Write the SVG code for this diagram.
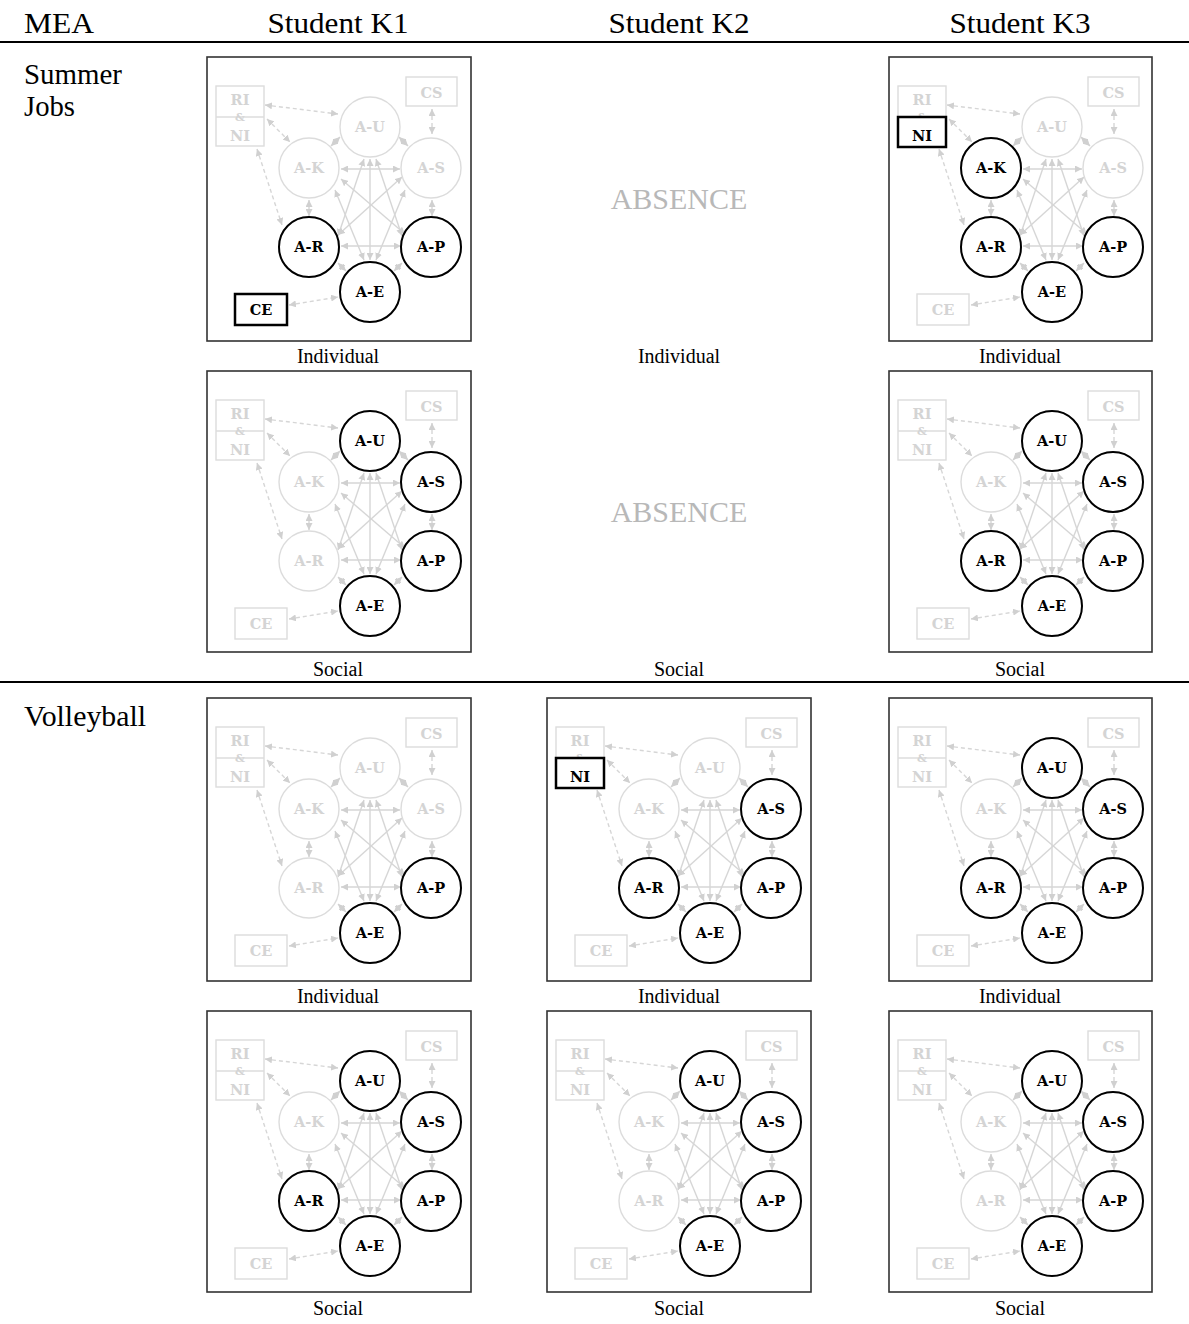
<svg xmlns="http://www.w3.org/2000/svg" xmlns:xlink="http://www.w3.org/1999/xlink" width="1189" height="1324" viewBox="0 0 1189 1324">
<style>
.hdr{font-family:"Liberation Serif","Times New Roman",serif;font-size:30px;fill:#000}
.lbl{font-family:"Liberation Serif","Times New Roman",serif;font-size:20px;fill:#000;text-anchor:middle}
.abs{font-family:"Liberation Serif","Times New Roman",serif;font-size:30px;fill:#b8b8b8;text-anchor:middle}
.frame{fill:none;stroke:#333;stroke-width:1.6}
.rule{stroke:#000;stroke-width:2}
.con{stroke:#d6d6d6;stroke-width:1.4;fill:none;marker-start:url(#ah);marker-end:url(#ah)}
.dash{stroke-dasharray:4 3}
.nd text{font-family:"DejaVu Serif","Liberation Serif",serif;font-weight:bold;font-size:14.5px;text-anchor:middle}
.gr circle,.gr rect{fill:none;stroke:#dcdcdc;stroke-width:1.4}
.gr text{fill:#d4d4d4}
.gr line{stroke:#dcdcdc;stroke-width:1.4}
.hi circle,.hi rect{fill:#fff;stroke:#000;stroke-width:2}
.hi rect{stroke-width:2.5}
.hi text{fill:#000}
</style>
<defs>
<marker id="ah" viewBox="0 0 8 8" refX="8" refY="4" markerWidth="7" markerHeight="7" orient="auto-start-reverse" markerUnits="userSpaceOnUse"><path d="M0,0 L8,4 L0,8 z" fill="#d0d0d0"/></marker>
<g id="base">
<g id="connectors">
<line class="con dash" x1="58" y1="48" x2="131" y2="57"/>
<line class="con dash" x1="60" y1="62" x2="83" y2="85"/>
<line class="con dash" x1="50" y1="92" x2="75" y2="168"/>
<line class="con dash" x1="225" y1="52" x2="225" y2="77"/>
<line class="con dash" x1="82" y1="248" x2="131" y2="240"/>
<line class="con" x1="133" y1="80" x2="124" y2="89"/>
<line class="con" x1="192" y1="80" x2="201" y2="89"/>
<line class="con" x1="134" y1="112" x2="193" y2="112"/>
<line class="con" x1="102" y1="143" x2="102" y2="159"/>
<line class="con" x1="225" y1="143" x2="225" y2="159"/>
<line class="con" x1="134" y1="189" x2="194" y2="189"/>
<line class="con" x1="131" y1="206" x2="139" y2="214"/>
<line class="con" x1="195" y1="206" x2="187" y2="214"/>
<line class="con" x1="163" y1="102" x2="163" y2="203"/>
<line class="con" x1="157" y1="102" x2="131" y2="179"/>
<line class="con" x1="169" y1="102" x2="195" y2="179"/>
<line class="con" x1="128" y1="133" x2="157" y2="203"/>
<line class="con" x1="198" y1="133" x2="169" y2="203"/>
<line class="con" x1="134" y1="122" x2="198" y2="177"/>
<line class="con" x1="195" y1="120" x2="131" y2="178"/>
</g>
<g id="base-RINI" class="nd gr"><rect x="9" y="29" width="48" height="60"/><line x1="9" y1="60" x2="57" y2="60"/><text x="33" y="48">RI</text><text x="33" y="64" style="font-size:11px">&amp;</text><text x="33" y="84">NI</text></g>
<g id="base-CS" class="nd gr"><rect x="199" y="20" width="51" height="29"/><text x="224.5" y="41">CS</text></g>
<g id="base-CE" class="nd gr"><rect x="28" y="237" width="52" height="31"/><text x="54" y="258">CE</text></g>
<g id="base-AU" class="nd gr"><circle cx="163" cy="70" r="30"/><text x="163" y="75">A-U</text></g>
<g id="base-AK" class="nd gr"><circle cx="102" cy="111" r="30"/><text x="102" y="116">A-K</text></g>
<g id="base-AS" class="nd gr"><circle cx="224" cy="111" r="30"/><text x="224" y="116">A-S</text></g>
<g id="base-AR" class="nd gr"><circle cx="102" cy="190" r="30"/><text x="102" y="195">A-R</text></g>
<g id="base-AP" class="nd gr"><circle cx="224" cy="190" r="30"/><text x="224" y="195">A-P</text></g>
<g id="base-AE" class="nd gr"><circle cx="163" cy="235" r="30"/><text x="163" y="240">A-E</text></g>
</g>
<g id="hAU" class="nd hi"><circle cx="163" cy="70" r="30"/><text x="163" y="75">A-U</text></g>
<g id="hAK" class="nd hi"><circle cx="102" cy="111" r="30"/><text x="102" y="116">A-K</text></g>
<g id="hAS" class="nd hi"><circle cx="224" cy="111" r="30"/><text x="224" y="116">A-S</text></g>
<g id="hAR" class="nd hi"><circle cx="102" cy="190" r="30"/><text x="102" y="195">A-R</text></g>
<g id="hAP" class="nd hi"><circle cx="224" cy="190" r="30"/><text x="224" y="195">A-P</text></g>
<g id="hAE" class="nd hi"><circle cx="163" cy="235" r="30"/><text x="163" y="240">A-E</text></g>
<g id="hNI" class="nd hi"><rect x="9" y="60" width="48" height="30"/><text x="33" y="84">NI</text></g>
<g id="hCE" class="nd hi"><rect x="28" y="237" width="52" height="31"/><text x="54" y="258">CE</text></g>
</defs>
<rect width="1189" height="1324" fill="#fff"/>
<g id="header">
<text class="hdr" x="24" y="33" textLength="70" lengthAdjust="spacingAndGlyphs">MEA</text>
<text class="hdr" x="338" y="33" text-anchor="middle" textLength="141" lengthAdjust="spacingAndGlyphs">Student K1</text>
<text class="hdr" x="679" y="33" text-anchor="middle" textLength="141" lengthAdjust="spacingAndGlyphs">Student K2</text>
<text class="hdr" x="1020" y="33" text-anchor="middle" textLength="141" lengthAdjust="spacingAndGlyphs">Student K3</text>
<line class="rule" x1="0" y1="42" x2="1189" y2="42"/>
<line class="rule" x1="0" y1="682" x2="1189" y2="682"/>
<text class="hdr" x="24" y="84" textLength="98" lengthAdjust="spacingAndGlyphs">Summer</text>
<text class="hdr" x="24" y="116" textLength="51" lengthAdjust="spacingAndGlyphs">Jobs</text>
<text class="hdr" x="24" y="726" textLength="122" lengthAdjust="spacingAndGlyphs">Volleyball</text>
</g>
<g id="labels">
<text class="lbl" x="338" y="363">Individual</text>
<text class="lbl" x="679" y="363">Individual</text>
<text class="lbl" x="1020" y="363">Individual</text>
<text class="lbl" x="338" y="676">Social</text>
<text class="lbl" x="679" y="676">Social</text>
<text class="lbl" x="1020" y="676">Social</text>
<text class="lbl" x="338" y="1003">Individual</text>
<text class="lbl" x="679" y="1003">Individual</text>
<text class="lbl" x="1020" y="1003">Individual</text>
<text class="lbl" x="338" y="1315">Social</text>
<text class="lbl" x="679" y="1315">Social</text>
<text class="lbl" x="1020" y="1315">Social</text>
<text class="abs" x="679" y="209">ABSENCE</text>
<text class="abs" x="679" y="522">ABSENCE</text>
</g>
<g id="k1-summer-individual" transform="translate(207,57)">
<rect class="frame" width="264" height="284"/><use href="#base"/>
<use href="#hAR"/><use href="#hAP"/><use href="#hAE"/><use href="#hCE"/>
</g>
<g id="k3-summer-individual" transform="translate(889,57)">
<rect class="frame" width="263" height="284"/><use href="#base"/>
<use href="#hNI"/><use href="#hAK"/><use href="#hAR"/><use href="#hAP"/><use href="#hAE"/>
</g>
<g id="k1-summer-social" transform="translate(207,371)">
<rect class="frame" width="264" height="281"/><use href="#base"/>
<use href="#hAU"/><use href="#hAS"/><use href="#hAP"/><use href="#hAE"/>
</g>
<g id="k3-summer-social" transform="translate(889,371)">
<rect class="frame" width="263" height="281"/><use href="#base"/>
<use href="#hAU"/><use href="#hAS"/><use href="#hAR"/><use href="#hAP"/><use href="#hAE"/>
</g>
<g id="k1-volleyball-individual" transform="translate(207,698)">
<rect class="frame" width="264" height="283"/><use href="#base"/>
<use href="#hAP"/><use href="#hAE"/>
</g>
<g id="k2-volleyball-individual" transform="translate(547,698)">
<rect class="frame" width="264" height="283"/><use href="#base"/>
<use href="#hNI"/><use href="#hAS"/><use href="#hAR"/><use href="#hAP"/><use href="#hAE"/>
</g>
<g id="k3-volleyball-individual" transform="translate(889,698)">
<rect class="frame" width="263" height="283"/><use href="#base"/>
<use href="#hAU"/><use href="#hAS"/><use href="#hAR"/><use href="#hAP"/><use href="#hAE"/>
</g>
<g id="k1-volleyball-social" transform="translate(207,1011)">
<rect class="frame" width="264" height="281"/><use href="#base"/>
<use href="#hAU"/><use href="#hAS"/><use href="#hAR"/><use href="#hAP"/><use href="#hAE"/>
</g>
<g id="k2-volleyball-social" transform="translate(547,1011)">
<rect class="frame" width="264" height="281"/><use href="#base"/>
<use href="#hAU"/><use href="#hAS"/><use href="#hAP"/><use href="#hAE"/>
</g>
<g id="k3-volleyball-social" transform="translate(889,1011)">
<rect class="frame" width="263" height="281"/><use href="#base"/>
<use href="#hAU"/><use href="#hAS"/><use href="#hAP"/><use href="#hAE"/>
</g>
</svg>
